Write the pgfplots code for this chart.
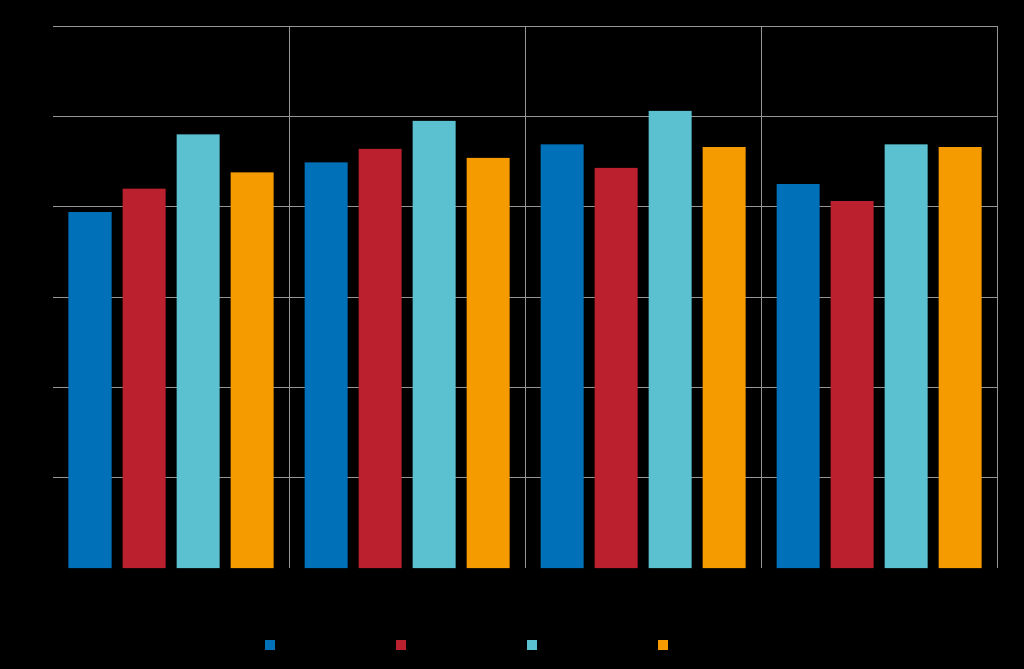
\documentclass[border=0pt]{standalone}
\usepackage{pgfplots}
\pgfplotsset{compat=1.18}

\definecolor{cblue}{RGB}{0,112,184}
\definecolor{cred}{RGB}{186,32,46}
\definecolor{ccyan}{RGB}{91,193,208}
\definecolor{corange}{RGB}{245,155,0}
\definecolor{cgrid}{RGB}{150,150,150}

\begin{document}
\begin{tikzpicture}
% black page behind the chart
\fill[black] (-53bp,-101bp) rectangle (971bp,568bp);
\begin{axis}[
    at={(0,0)}, anchor=south west,
    scale only axis,
    width=944bp, height=542bp,
    ybar=11bp, bar width=43bp,
    xmin=-0.5, xmax=3.5,
    ymin=0, ymax=6,
    xtick={0.5,1.5,2.5,3.5}, xticklabels={},
    ytick={1,2,3,4,5,6}, yticklabels={},
    major tick length=0pt,
    xmajorgrids, ymajorgrids,
    grid style={cgrid, line width=0.8bp},
    axis line style={draw=none},
    legend columns=4,
    legend style={draw=none, fill=none, at={(0.440,-0.142)}, anchor=center,
        /tikz/every even column/.append style={column sep=117bp}},
    legend image code/.code={\fill[#1] (0bp,-5bp) rectangle (10bp,5bp);},
]
\addplot[fill=cblue, draw=none] coordinates {(0,3.94) (1,4.49) (2,4.69) (3,4.25)};
\addlegendentry{\mbox{}}
\addplot[fill=cred, draw=none] coordinates {(0,4.20) (1,4.64) (2,4.43) (3,4.06)};
\addlegendentry{\mbox{}}
\addplot[fill=ccyan, draw=none] coordinates {(0,4.80) (1,4.95) (2,5.06) (3,4.69)};
\addlegendentry{\mbox{}}
\addplot[fill=corange, draw=none] coordinates {(0,4.38) (1,4.54) (2,4.66) (3,4.66)};
\addlegendentry{\mbox{}}
\end{axis}
\end{tikzpicture}
\end{document}
